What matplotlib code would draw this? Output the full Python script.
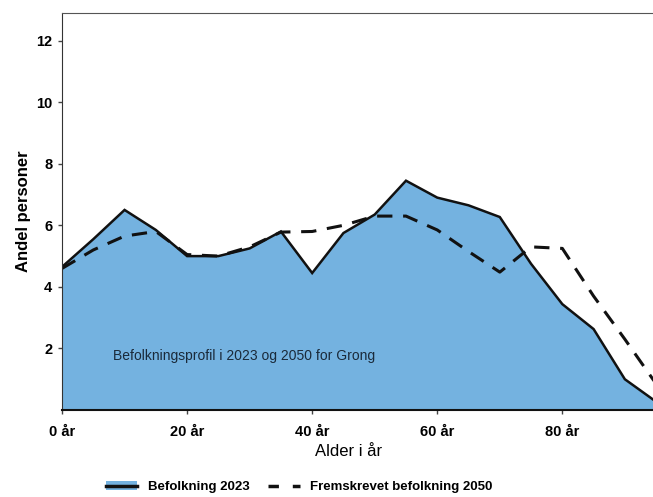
import matplotlib.pyplot as plt
from matplotlib.lines import Line2D
from matplotlib.patches import Patch
import numpy as np

plt.rcParams['font.family'] = ['Liberation Sans', 'DejaVu Sans']

# alder (5-års steg) og andel personer i prosent
alder = [0, 5, 10, 15, 20, 25, 30, 35, 40, 45, 50, 55, 60, 65, 70, 75, 80, 85, 90, 95]
bef_2023 = [4.65, 5.55, 6.5, 5.85, 5.0, 5.0, 5.25, 5.8, 4.45, 5.75, 6.35, 7.45,
            6.9, 6.65, 6.27, 4.75, 3.44, 2.63, 1.0, 0.27]
bef_2050 = [4.6, 5.2, 5.65, 5.8, 5.05, 5.0, 5.3, 5.78, 5.8, 6.0, 6.3, 6.3,
            5.85, 5.15, 4.48, 5.3, 5.25, 3.7, 2.3, 0.85]
xticks = [0, 20, 40, 60, 80]
xlabels = ['0 år', '20 år', '40 år', '60 år', '80 år']
yticks = [2, 4, 6, 8, 10, 12]

fill_col = '#74b2e0'

fig = plt.figure(figsize=(6.53, 4.97), dpi=100)
ax = fig.add_axes([0.095, 0.175, 0.905, 0.799])

ax.fill_between(alder, bef_2023, 0, color=fill_col, lw=0)
ax.plot(alder, bef_2023, color='#111111', lw=1.8, solid_joinstyle='miter')
ax.plot(alder, bef_2050, color='#111111', lw=2.2, dashes=(5, 3.5))

ax.set_xlim(0, 94.5)
ax.set_ylim(0, 12.9)
ax.set_xticks(xticks)
ax.set_xticklabels(xlabels, fontsize=10.5, fontweight='bold')
ax.set_yticks(yticks)
ax.set_yticklabels([str(t) for t in yticks], fontsize=10.5, fontweight='bold')
ax.tick_params(axis='x', length=3, width=1, color='#444444', pad=8)
ax.tick_params(axis='y', length=3, width=1, color='#444444', pad=4)

ax.spines['right'].set_visible(False)
ax.spines['top'].set_color('#555555')
ax.spines['left'].set_color('#333333')
ax.spines['bottom'].set_color('#111111')
ax.spines['bottom'].set_linewidth(1.5)

ax.set_ylabel('Andel personer', fontsize=12, fontweight='bold', labelpad=4)
ax.set_xlabel('Alder i år', fontsize=12, labelpad=2)
ax.xaxis.set_label_coords(0.485, -0.085)

ax.text(8.1, 1.75, 'Befolkningsprofil i 2023 og 2050 for Grong', fontsize=10,
        color='#1a2a3a', va='center', ha='left')

handles = [
    (Patch(facecolor=fill_col, edgecolor='none'), Line2D([], [], color='#111111', lw=2.5)),
    Line2D([], [], color='#111111', lw=2.5, dashes=(3, 4)),
]
fig.legend(handles, ['Befolkning 2023', 'Fremskrevet befolkning 2050'],
           loc='center', bbox_to_anchor=(0.458, 0.02), ncol=2, frameon=False,
           handlelength=2.4, columnspacing=1.4, handletextpad=0.8,
           prop={'weight': 'bold', 'size': 9.5})

fig.savefig('out.png', dpi=100)
